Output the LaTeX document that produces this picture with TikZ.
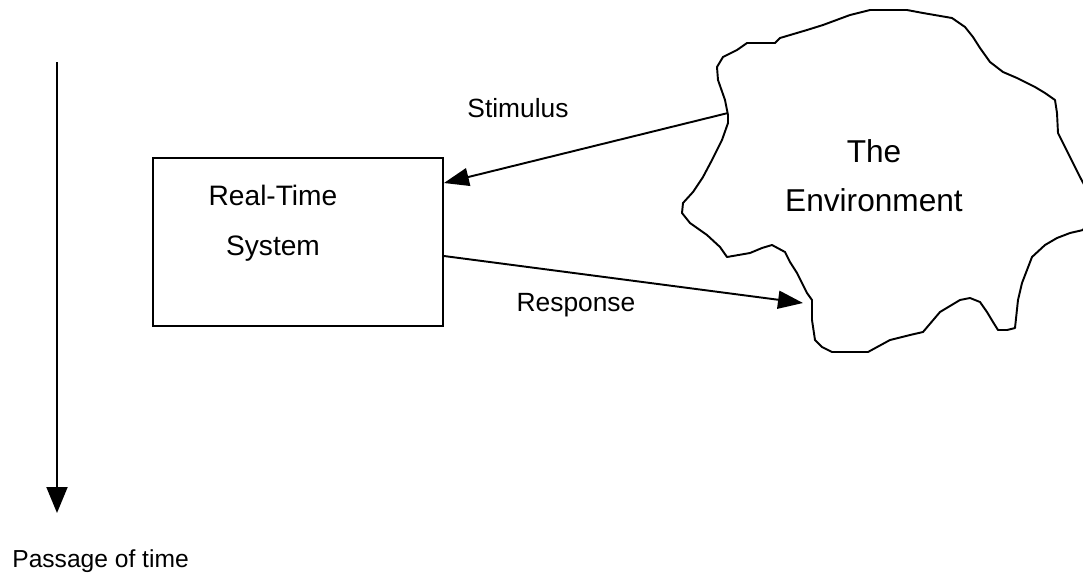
\documentclass[tikz,border=0pt]{standalone}
\usepackage{fontspec}
\setmainfont{Liberation Sans}
\usetikzlibrary{arrows.meta}

\tikzset{
  edge/.style={line width=1.1pt, -{Triangle[length=0.5cm,width=0.36cm]}},
  lbl/.style={inner sep=0pt, font=\fontsize{15}{18}\selectfont},
}

\begin{document}
\begin{tikzpicture}[x=0.02cm,y=-0.02cm]
  \useasboundingbox (0,0) rectangle (1083,579);
  % passage of time
  \coordinate (ttop) at (57,62);
  \coordinate (tbot) at (57,513);
  \draw[line width=1.1pt, -{Triangle[length=0.52cm,width=0.42cm]}] (ttop) -- (tbot);
  \node[lbl, anchor=base west, font=\fontsize{14}{17}\selectfont] (time) at (12,567) {Passage of time};
  % the system
  \node[draw, line width=1.1pt, minimum width=5.8cm, minimum height=3.36cm] (rts) at (298,242) {};
  \node[inner sep=0pt, align=center, font=\fontsize{16}{28.5}\selectfont] (rtstext) at (273,223) {Real-Time\\System};
  % the environment
  \draw[line width=1.1pt, line join=round]
    (870,10) -- (907,10) -- (923,13) -- (952,18) -- (965,27) -- (973,37)
    -- (980,48) -- (990,62) -- (1003,72) -- (1017,78) -- (1035,87) -- (1045,93)
    -- (1055,100) -- (1057,113) -- (1058,133) -- (1065,147) -- (1073,163)
    -- (1080,177) -- (1095,205) -- (1083,230) -- (1070,233) -- (1057,238)
    -- (1045,245) -- (1032,257) -- (1027,270) -- (1022,283) -- (1018,300)
    -- (1015,328) -- (1007,330) -- (998,330) -- (993,322) -- (987,312)
    -- (980,302) -- (970,298) -- (960,300) -- (940,312) -- (923,332)
    -- (910,335) -- (890,340) -- (868,352) -- (832,352) -- (822,347)
    -- (815,340) -- (812,320) -- (812,300) -- (807,293) -- (797,273)
    -- (790,262) -- (785,252) -- (772,245) -- (762,248) -- (750,253)
    -- (727,257) -- (720,247) -- (707,235) -- (690,223) -- (682,213)
    -- (683,203) -- (693,192) -- (703,177) -- (712,160) -- (722,140)
    -- (728,123) -- (728,115) -- (725,100) -- (718,80) -- (717,67)
    -- (723,57) -- (737,50) -- (747,43) -- (775,43) -- (780,38)
    -- (807,30) -- (823,25) -- (850,15) -- cycle;
  \node[inner sep=0pt, align=center, font=\fontsize{18}{27.9}\selectfont] (env) at (874,176) {The\\Environment};
  \coordinate (stim) at (728,113);
  \coordinate (resp) at (803,303);
  % stimulus and response
  \draw[edge] (stim) -- ([yshift=1.18cm]rts.east);
  \node[lbl] (stimtext) at (518,108.5) {Stimulus};
  \draw[edge] ([yshift=-0.28cm]rts.east) -- (resp);
  \node[lbl] (resptext) at (576,305) {Response};
\end{tikzpicture}
\end{document}
